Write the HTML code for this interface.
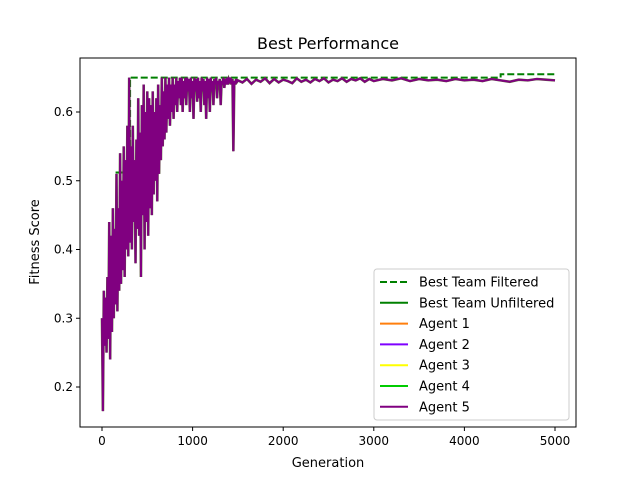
<!DOCTYPE html>
<html><head><meta charset="utf-8"><style>
body{margin:0;background:#fff}
svg text{font-family:"DejaVu Sans","Liberation Sans",sans-serif;fill:#000}
</style></head><body>
<svg id="chart" width="640" height="480" xmlns="http://www.w3.org/2000/svg">
<rect width="640" height="480" fill="#fff"/>
<text x="328" y="49" font-size="16" text-anchor="middle">Best Performance</text>
<text x="328" y="467" font-size="13" text-anchor="middle">Generation</text>
<text x="39" y="242" font-size="13" text-anchor="middle" transform="rotate(-90 39 242)">Fitness Score</text>
<g id="plot"></g>
<rect x="80" y="58" width="496" height="369" fill="none" stroke="#000" stroke-width="1"/>
<g id="ticks"></g>
<g>
<rect x="374" y="269" width="195" height="151" rx="3" fill="#fff" fill-opacity="0.8" stroke="#ccc"/>
<g id="legend-items"></g>
</g>
</svg>
<script>
const xTicks=[0,1000,2000,3000,4000,5000];
const yTicks=[0.2,0.3,0.4,0.5,0.6];
const earlyVals=[0.30,0.165,0.34,0.26,0.33,0.25,0.36,0.27,0.44,0.24,0.42,0.28,0.46,0.30,0.43,0.32,0.51,0.31,0.46,0.34,0.54,0.35,0.50,0.37,0.55,0.36,0.53,0.40,0.58,0.39,0.65,
0.41,0.55,0.40,0.58,0.44,0.53,0.38,0.56,0.43,0.62,0.42,0.57,0.36,0.61,0.45,0.64,0.40,0.60,0.44,0.63,0.42,0.62,0.46,0.61,0.45,0.63,0.48,0.60,0.50,0.62,
0.47,0.64,0.51,0.61,0.53,0.65,0.55,0.63,0.56,0.65,0.57,0.64,0.59,0.65,0.58,0.64,0.60,0.65,0.59,0.64,0.61,0.65,0.60,0.645,0.62,0.65,0.61,0.65,0.60,0.645,
0.62,0.65,0.61,0.65,0.63,0.648,0.60,0.65,0.62,0.645,0.59,0.65,0.63,0.648,0.615,0.65,0.62,0.645,0.60,0.65,0.63,0.648,0.61,0.645,0.59,0.65,0.62,0.648,0.60,0.65,
0.63,0.645,0.61,0.648,0.64,0.65,0.62,0.645,0.64,0.648,0.61,0.645,0.64,0.65,0.635,0.648,0.64,0.65,0.64,0.648,0.645,0.65,0.64,0.648,0.543,0.645,0.64,0.648,0.644,0.646];
const lateGens=[1550,1600,1650,1700,1750,1800,1850,1900,1950,2000,2050,2100,2150,2200,2250,2300,2350,2400,2450,2500,2550,2600,2650,2700,2750,2800,2850,2900,2950,3000,3100,3200,3300,3400,3500,3600,3700,3800,3900,4000,4100,4200,4300,4400,4500,4600,4700,4800,4900,5000];
const lateVals=[0.643,0.648,0.641,0.647,0.644,0.649,0.642,0.648,0.643,0.647,0.645,0.642,0.649,0.644,0.647,0.643,0.648,0.645,0.649,0.643,0.647,0.645,0.649,0.644,0.648,0.646,0.649,0.644,0.648,0.645,0.648,0.646,0.649,0.645,0.648,0.646,0.647,0.645,0.648,0.646,0.647,0.645,0.648,0.646,0.644,0.647,0.646,0.648,0.647,0.646];
const filtGens=[150,310,4400,5000];
const filtVals=[0.512,0.65,0.655,0.655];
const legendLabels=["Best Team Filtered","Best Team Unfiltered","Agent 1","Agent 2","Agent 3","Agent 4","Agent 5"];
const legendColors=["#008000","#008000","#ff7f0e","#7f00ff","#ffff00","#00cc00","#800080"];
const gens=[],agent5=[];
earlyVals.forEach((v,i)=>{gens.push(i*10);agent5.push(v);});
lateGens.forEach((g,i)=>{gens.push(g);agent5.push(lateVals[i]);});
const NS="http://www.w3.org/2000/svg";
const xs=g=>102+g*(555-102)/5000;
const ys=v=>112+(0.6-v)*687.5;
const plot=document.getElementById('plot'),ticks=document.getElementById('ticks'),leg=document.getElementById('legend-items');
function el(t,a,p){const e=document.createElementNS(NS,t);for(const k in a)e.setAttribute(k,a[k]);p.appendChild(e);return e;}
let d='';filtGens.forEach((g,i)=>{if(i==0)d+='M'+xs(g)+','+ys(filtVals[i]);else d+='H'+xs(g)+'V'+ys(filtVals[i]);});
const f=el('path',{d:d,fill:'none',stroke:'#008000','stroke-width':2,'stroke-dasharray':'7,3'},plot);


const pts=gens.map((g,i)=>xs(g)+','+ys(agent5[i])).join(' ');
const u=el('polyline',{points:pts,fill:'none',stroke:'#556b2f','stroke-width':2.6},plot);


const a5=el('polyline',{points:pts,fill:'none',stroke:'#800080','stroke-width':2},plot);


xTicks.forEach(t=>{const x=xs(t);el('line',{x1:x,x2:x,y1:427,y2:431,stroke:'#000'},ticks);
const tx=el('text',{x:x,y:445,'font-size':12,'text-anchor':'middle'},ticks);tx.textContent=t;

});
yTicks.forEach(t=>{const y=ys(t);el('line',{x1:76,x2:80,y1:y,y2:y,stroke:'#000'},ticks);
const tx=el('text',{x:73,y:y+4,'font-size':12,'text-anchor':'end'},ticks);tx.textContent=t.toFixed(1);

});
legendLabels.forEach((l,i)=>{const y=282+i*20.8;
const ln=el('line',{x1:380,x2:408,y1:y,y2:y,stroke:legendColors[i],'stroke-width':2},leg);
if(i==0)ln.setAttribute('stroke-dasharray','7,3');
const tx=el('text',{x:419,y:y+4.5,'font-size':13},leg);tx.textContent=l;

});
</script>
</body></html>
